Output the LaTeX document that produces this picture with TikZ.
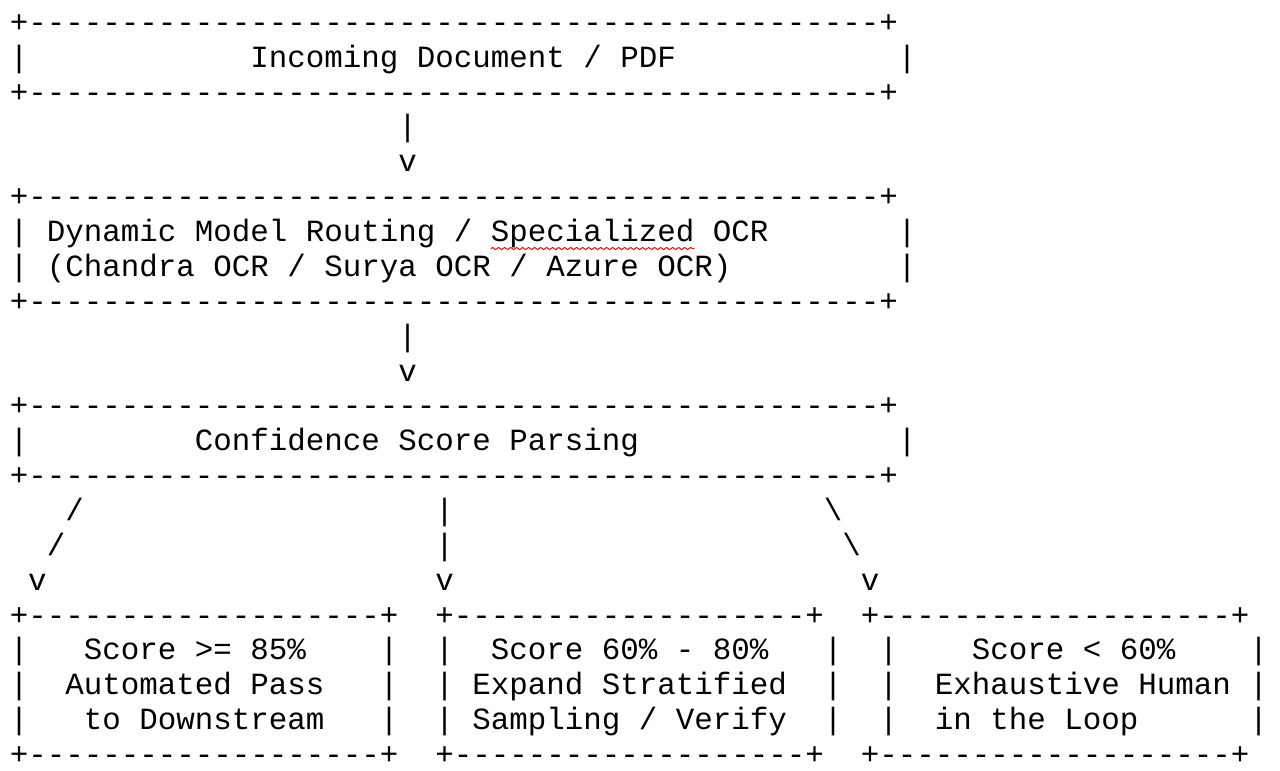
\documentclass[tikz,border=0pt]{standalone}
\usepackage{fontspec}
\newfontfamily\asciifont{Liberation Mono}
\usetikzlibrary{decorations.pathmorphing}

% place a text piece at character column #2 of text row #3
\newcommand{\asciiat}[4]{\node[ascii] (#1) at ({9.75+18.5*#2},{32.4+34.86*(#3-1)}) {#4};}
% +-----...-----+ border with #1 dashes
\newcommand{\asciirule}[1]{+\foreach \k in {1,...,#1}{-\kern0pt}+}

\begin{document}
\begin{tikzpicture}[
  x=0.5pt, y=-0.5pt,
  ascii/.style={inner sep=0pt, outer sep=0pt, anchor=base west,
                font=\asciifont\fontsize{15.42pt}{17.4pt}\selectfont},
  spellmark/.style={draw=red!85!black, line width=0.45pt, decorate,
                    decoration={snake, amplitude=0.55pt, segment length=3pt}}
]
\useasboundingbox (0,0) rectangle (1280,771);

% Box 1 — incoming document
\asciiat{docTop}{0}{1}{\asciirule{46}}
\asciiat{docL}{0}{2}{|}
\asciiat{docText}{13}{2}{Incoming Document / PDF}
\asciiat{docR}{48}{2}{|}
\asciiat{docBot}{0}{3}{\asciirule{46}}

\asciiat{docBar}{21}{4}{|}
\asciiat{docHead}{21}{5}{v}

% Box 2 — model routing
\asciiat{routeTop}{0}{6}{\asciirule{46}}
\asciiat{routeL1}{0}{7}{|}
\asciiat{routeText}{2}{7}{Dynamic Model Routing /}
\asciiat{routeSpec}{26}{7}{Specialized}
\asciiat{routeOCR}{38}{7}{OCR}
\asciiat{routeR1}{48}{7}{|}
\asciiat{routeL2}{0}{8}{|}
\asciiat{routeList}{2}{8}{(Chandra OCR / Surya OCR / Azure OCR)}
\asciiat{routeR2}{48}{8}{|}
\asciiat{routeBot}{0}{9}{\asciirule{46}}
\draw[spellmark] ([yshift=-3.5pt]routeSpec.base west) -- ([yshift=-3.5pt]routeSpec.base east);

\asciiat{routeBar}{21}{10}{|}
\asciiat{routeHead}{21}{11}{v}

% Box 3 — confidence parsing
\asciiat{parseTop}{0}{12}{\asciirule{46}}
\asciiat{parseL}{0}{13}{|}
\asciiat{parseText}{10}{13}{Confidence Score Parsing}
\asciiat{parseR}{48}{13}{|}
\asciiat{parseBot}{0}{14}{\asciirule{46}}

% three branches
\asciiat{leftS1}{3}{15}{/}
\asciiat{leftS2}{2}{16}{/}
\asciiat{leftHead}{1}{17}{v}
\asciiat{midBar1}{23}{15}{|}
\asciiat{midBar2}{23}{16}{|}
\asciiat{midHead}{23}{17}{v}
\asciiat{rightS1}{44}{15}{\textbackslash}
\asciiat{rightS2}{45}{16}{\textbackslash}
\asciiat{rightHead}{46}{17}{v}

% Bottom row — outcomes
\asciiat{passTop}{0}{18}{\asciirule{19}}
\asciiat{checkTop}{23}{18}{\asciirule{19}}
\asciiat{humanTop}{46}{18}{\asciirule{19}}
\foreach \r in {19,20,21} {
  \asciiat{passL\r}{0}{\r}{|}
  \asciiat{passR\r}{20}{\r}{|}
  \asciiat{checkL\r}{23}{\r}{|}
  \asciiat{checkR\r}{44}{\r}{|}
  \asciiat{humanL\r}{47}{\r}{|}
  \asciiat{humanR\r}{67}{\r}{|}
}
\asciiat{passText1}{4}{19}{Score >= 85\%}
\asciiat{passText2}{3}{20}{Automated Pass}
\asciiat{passText3}{4}{21}{to Downstream}
\asciiat{checkText1}{26}{19}{Score 60\% - 80\%}
\asciiat{checkText2}{25}{20}{Expand Stratified}
\asciiat{checkText3}{25}{21}{Sampling / Verify}
\asciiat{humanText1}{52}{19}{Score < 60\%}
\asciiat{humanText2}{50}{20}{Exhaustive Human}
\asciiat{humanText3}{50}{21}{in the Loop}
\asciiat{passBot}{0}{22}{\asciirule{19}}
\asciiat{checkBot}{23}{22}{\asciirule{19}}
\asciiat{humanBot}{46}{22}{\asciirule{19}}

\end{tikzpicture}
\end{document}
